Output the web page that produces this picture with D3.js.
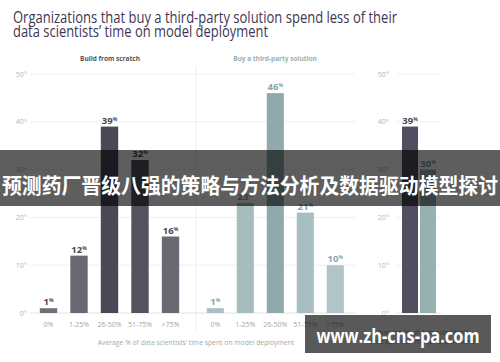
<!DOCTYPE html>
<html>
<head>
<meta charset="utf-8">
<script src="https://cdn.jsdelivr.net/npm/d3@7/dist/d3.min.js"></script>
<style>
  body { margin: 0; background: #fff; }
  svg { display: block; font-family: "Open Sans", "Noto Sans", sans-serif; }
</style>
</head>
<body>
<svg id="chart" width="500" height="362"></svg>
<script>
// data
const categories = ["0%", "1-25%", "26-50%", "51-75%", ">75%"];
const buildValues = [1, 12, 39, 32, 16];
const buyValues = [1, 23, 46, 21, 10];
const avgGroups = ["Build", "Buy"];
const avgValues = [39, 30];
const yTicks = [0, 10, 20, 30, 40, 50];

const buildColors = ["#726e79", "#6c6873", "#4b4757", "#55515f", "#6b6773"];
const buyColors = ["#a9bfc1", "#a6bdbf", "#8eaaac", "#a8bfc1", "#b0c5c7"];

const svg = d3.select("#chart");

const y = d3.scaleLinear().domain([0, 50]).range([313, 74]);

// grid lines
function grid(x1, x2) {
	svg.append("g").selectAll("line")
		.data(yTicks)
		.enter()
		.append("line")
		.attr("x1", x1).attr("x2", x2)
		.attr("y1", d => y(d)).attr("y2", d => y(d))
		.attr("stroke", d => d === 0 ? "#e4e4e4" : "#efefef")
		.attr("stroke-width", 1);
}
function yLabels(xr) {
	const t = svg.append("g").selectAll("text")
		.data(yTicks)
		.enter()
		.append("text")
		.attr("x", xr)
		.attr("y", d => y(d) + 2.5)
		.attr("text-anchor", "end")
		.attr("fill", "#b5b5b5")
		.attr("font-size", 7);
	t.append("tspan").text(d => d);
	t.append("tspan").attr("font-size", 4).attr("dy", -2.5).text("%");
}
grid(30, 355);
grid(397, 441);
yLabels(27);
yLabels(389);

// divider between panels
svg.append("line")
	.attr("x1", 196).attr("x2", 196)
	.attr("y1", 66).attr("y2", 330)
	.attr("stroke", "#efefef");

function valueLabel(g, x, v, color) {
	const t = g.append("text")
		.attr("x", x)
		.attr("y", y(v) - 3)
		.attr("text-anchor", "middle")
		.attr("fill", color)
		.attr("font-weight", 700)
		.attr("font-size", 9.5);
	t.append("tspan").text(v);
	t.append("tspan").attr("font-size", 5).attr("dy", -3).text("%");
}

function panel(values, colors, labelColor, r) {
	const x = d3.scaleBand().domain(categories).range(r)
		.paddingInner(0.43).paddingOuter(0.215);
	const g = svg.append("g");
	g.selectAll("rect")
		.data(values)
		.enter()
		.append("rect")
		.attr("x", (d, i) => x(categories[i]))
		.attr("y", d => y(d))
		.attr("width", x.bandwidth())
		.attr("height", d => y(0) - y(d))
		.attr("fill", (d, i) => colors[i]);
	values.forEach((v, i) => valueLabel(g, x(categories[i]) + x.bandwidth() / 2, v, labelColor));
	g.selectAll(".cat")
		.data(categories)
		.enter()
		.append("text")
		.attr("x", d => x(d) + x.bandwidth() / 2)
		.attr("y", 327)
		.attr("text-anchor", "middle")
		.attr("fill", "#a5a5a5")
		.attr("font-size", 7)
		.text(d => d);
}
panel(buildValues, buildColors, "#4a4556", [33.25, 185.75]);
panel(buyValues, buyColors, "#88a4a6", [200.3, 350.3]);

// average panel
const xa = d3.scaleBand().domain(avgGroups).range([401, 437]).paddingInner(0.11).paddingOuter(0.055);
const ga = svg.append("g");
ga.selectAll("rect")
	.data(avgValues)
	.enter()
	.append("rect")
	.attr("x", (d, i) => xa(avgGroups[i]))
	.attr("y", d => y(d))
	.attr("width", xa.bandwidth())
	.attr("height", d => y(0) - y(d))
	.attr("fill", (d, i) => i === 0 ? "#524e5f" : "#97b0b2");
valueLabel(ga, xa("Build") + xa.bandwidth() / 2, avgValues[0], "#4a4556");
valueLabel(ga, xa("Buy") + xa.bandwidth() / 2, avgValues[1], "#7c9a9c");

// axis titles
svg.append("text")
	.attr("x", 196).attr("y", 345)
	.attr("text-anchor", "middle")
	.attr("fill", "#a8a8a8").attr("font-size", 6.8)
	.text("Average % of data scientists\u2019 time spent on model deployment");
svg.append("text")
	.attr("x", 422).attr("y", 335)
	.attr("text-anchor", "middle")
	.attr("fill", "#a8a8a8").attr("font-size", 6.8)
	.text("Average % of data scientists\u2019");
svg.append("text")
	.attr("x", 422).attr("y", 344)
	.attr("text-anchor", "middle")
	.attr("fill", "#a8a8a8").attr("font-size", 6.8)
	.text("time spent on model deployment");

// panel subtitles
svg.append("text")
	.attr("x", 110).attr("y", 61)
	.attr("text-anchor", "middle")
	.attr("fill", "#555").attr("font-weight", 700).attr("font-size", 6.5)
	.text("Build from scratch");
svg.append("text")
	.attr("x", 275).attr("y", 61)
	.attr("text-anchor", "middle")
	.attr("fill", "#98b0b2").attr("font-weight", 700).attr("font-size", 6.5)
	.text("Buy a third-party solution");

// title
svg.append("text")
	.attr("x", 13).attr("y", 23)
	.attr("fill", "#3f3654").attr("font-size", 15.5)
	.attr("textLength", 384).attr("lengthAdjust", "spacingAndGlyphs")
	.text("Organizations that buy a third-party solution spend less of their");
svg.append("text")
	.attr("x", 13).attr("y", 36.5)
	.attr("fill", "#3f3654").attr("font-size", 15.5)
	.attr("textLength", 255).attr("lengthAdjust", "spacingAndGlyphs")
	.text("data scientists\u2019 time on model deployment");

// overlay banner
svg.append("rect")
	.attr("x", 0).attr("y", 150).attr("width", 500).attr("height", 56)
	.attr("fill", "rgba(0,0,0,0.63)");
svg.append("text")
	.attr("x", 250).attr("y", 193)
	.attr("text-anchor", "middle")
	.attr("fill", "#fff").attr("font-weight", 700).attr("font-size", 21)
	.attr("font-family", "'Noto Sans CJK SC', sans-serif")
	.attr("textLength", 496).attr("lengthAdjust", "spacingAndGlyphs")
	.text("预测药厂晋级八强的策略与方法分析及数据驱动模型探讨");

// watermark box
svg.append("rect")
	.attr("x", 305).attr("y", 315).attr("width", 186).attr("height", 38)
	.attr("fill", "rgba(0,0,0,0.65)");
svg.append("text")
	.attr("x", 398).attr("y", 343)
	.attr("text-anchor", "middle")
	.attr("fill", "#fff").attr("font-weight", 700).attr("font-size", 19)
	.attr("font-family", "'Open Sans', sans-serif")
	.attr("textLength", 163).attr("lengthAdjust", "spacingAndGlyphs")
	.text("www.zh-cns-pa.com");
</script>
</body>
</html>
